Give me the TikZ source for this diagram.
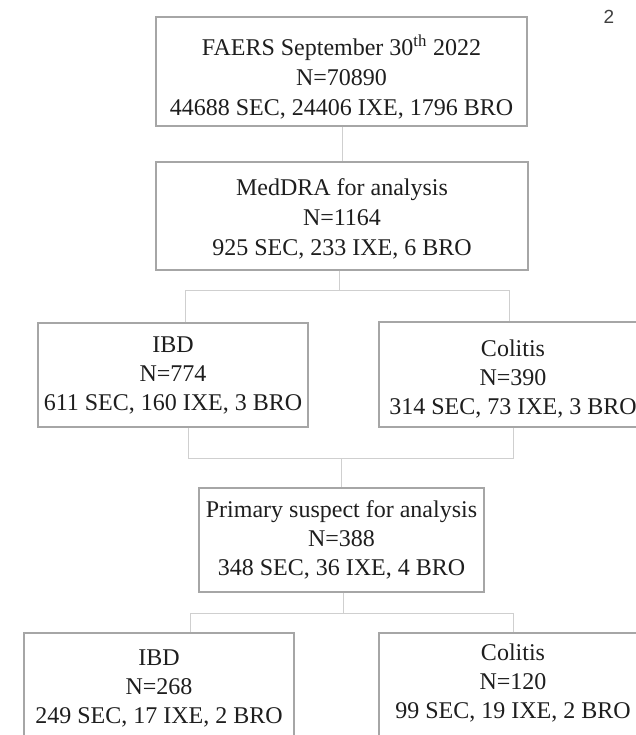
\documentclass[tikz,border=0pt]{standalone}
\usepackage{fontspec}
\setmainfont{Liberation Serif}
\newfontfamily\pagefont{Liberation Sans}
\definecolor{boxgray}{HTML}{A6A6A6}
\definecolor{linkgray}{HTML}{CFCFCF}
\definecolor{inkgray}{HTML}{1E1E1E}

\newcommand{\sunk}[2]{\raisebox{-#1}[\height][\depth]{\begin{tabular}{@{}c@{}}#2\end{tabular}}}

\tikzset{
  stage/.style={draw=boxgray, line width=1.3pt, inner sep=0pt, align=center,
    text=inkgray, font=\fontsize{24}{29}\selectfont},
  widestage/.style={stage, font=\fontsize{24}{30}\selectfont},
  link/.style={draw=linkgray, line width=1pt}
}

\begin{document}
\begin{tikzpicture}[x=1pt,y=-1pt]

    \clip (0,0) rectangle (636,735);
    \fill[white] (0,0) rectangle (636,735);

    \node[font=\pagefont\fontsize{19}{19}\selectfont, text=inkgray!85] (page) at (609,17) {2};

    \node[widestage, minimum width=371pt, minimum height=109pt] (faers) at (341.5,71.5)
        {\sunk{8pt}{FAERS September 30\textsuperscript{th} 2022\\N=70890\\44688 SEC, 24406 IXE, 1796 BRO}};
    \node[widestage, minimum width=372pt, minimum height=108pt] (meddra) at (342,216)
        {\sunk{3.5pt}{MedDRA for analysis\\N=1164\\925 SEC, 233 IXE, 6 BRO}};

    \node[stage, minimum width=270pt, minimum height=104pt] (ibd) at (173,375)
        {IBD\\N=774\\611 SEC, 160 IXE, 3 BRO};
    \node[stage, minimum width=268pt, minimum height=105pt] (colitis) at (513,374.5)
        {\sunk{5pt}{Colitis\\N=390\\314 SEC, 73 IXE, 3 BRO}};

    \node[stage, minimum width=285pt, minimum height=104pt] (primary) at (341.5,540)
        {Primary suspect for analysis\\N=388\\348 SEC, 36 IXE, 4 BRO};

    \node[stage, minimum width=270pt, minimum height=104pt] (ibdlow) at (159,685)
        {\sunk{4pt}{IBD\\N=268\\249 SEC, 17 IXE, 2 BRO}};
    \node[stage, minimum width=268pt, minimum height=104pt] (colitislow) at (513,685)
        {\sunk{-1pt}{Colitis\\N=120\\99 SEC, 19 IXE, 2 BRO}};

    \coordinate (trunk) at (342,0);
    \coordinate (split) at (339,290);
    \coordinate (splitl) at (185,290);
    \coordinate (splitr) at (509,290);
    \coordinate (merge) at (341,458);
    \coordinate (mergel) at (188,458);
    \coordinate (merger) at (513,458);
    \coordinate (fork) at (343,613);
    \coordinate (forkl) at (190,613);
    \coordinate (forkr) at (513,613);

    \draw[link] (faers.south -| trunk) -- (meddra.north -| trunk);

    \draw[link] (meddra.south -| split) -- (split);
    \draw[link] (splitl |- ibd.north) -- (splitl) -- (splitr) -- (splitr |- colitis.north);

    \draw[link] (ibd.south -| mergel) -- (mergel) -- (merger) -- (colitis.south -| merger);
    \draw[link] (merge) -- (primary.north -| merge);

    \draw[link] (primary.south -| fork) -- (fork);
    \draw[link] (forkl |- ibdlow.north) -- (forkl) -- (forkr) -- (forkr |- colitislow.north);

\end{tikzpicture}
\end{document}
